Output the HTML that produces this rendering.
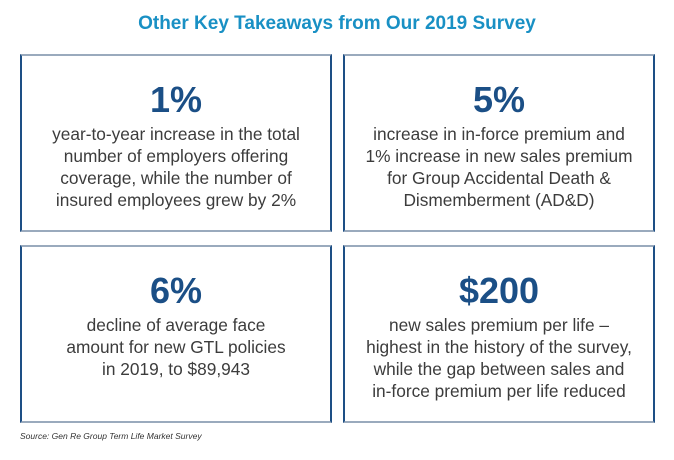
<!DOCTYPE html>
<html><head><style>
body{margin:0;width:674px;height:460px;background:#fff;font-family:"Liberation Sans",sans-serif;position:relative;overflow:hidden}
.t{position:absolute;left:0;width:674px;top:13px;text-align:center;color:#1990c4;font-size:19px;font-weight:bold}
.b{position:absolute;width:312px;height:178px;border-left:2px solid #1d4f85;border-right:2px solid #1d4f85;border-top:2px solid #9aaabd;border-bottom:2px solid #9aaabd;box-sizing:border-box;text-align:center}
.n{color:#1b4f86;font-weight:bold;font-size:36px;margin-top:24px;line-height:40px}
.p{color:#3c3c3c;font-size:17.3px;line-height:22px;margin-top:3px;white-space:nowrap}
.s{position:absolute;left:20px;top:431px;font-size:8.5px;font-style:italic;color:#333}
</style></head><body>
<div class="t">Other Key Takeaways from Our 2019 Survey</div>
<div class="b" style="left:20px;top:54px"><div class="n">1%</div><div class="p">year-to-year increase in the total<br>number of employers offering<br>coverage, while the number of<br>insured employees grew by 2%</div></div>
<div class="b" style="left:343px;top:54px"><div class="n">5%</div><div class="p">increase in in-force premium and<br>1% increase in new sales premium<br>for Group Accidental Death &amp;<br>Dismemberment (AD&amp;D)</div></div>
<div class="b" style="left:20px;top:245px"><div class="n">6%</div><div class="p">decline of average face<br>amount for new GTL policies<br>in 2019, to $89,943</div></div>
<div class="b" style="left:343px;top:245px"><div class="n">$200</div><div class="p">new sales premium per life –<br>highest in the history of the survey,<br>while the gap between sales and<br>in-force premium per life reduced</div></div>
<div class="s">Source: Gen Re Group Term Life Market Survey</div>
</body></html>
